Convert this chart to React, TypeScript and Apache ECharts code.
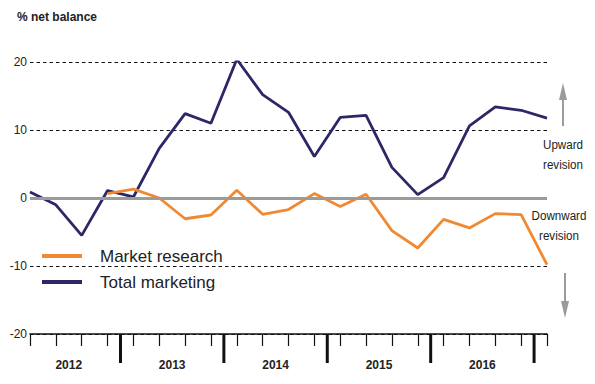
import React, { useEffect, useRef } from 'react';
import * as echarts from 'echarts';

const quarters = [
  '2012 Q1', '2012 Q2', '2012 Q3', '2012 Q4',
  '2013 Q1', '2013 Q2', '2013 Q3', '2013 Q4',
  '2014 Q1', '2014 Q2', '2014 Q3', '2014 Q4',
  '2015 Q1', '2015 Q2', '2015 Q3', '2015 Q4',
  '2016 Q1', '2016 Q2', '2016 Q3', '2016 Q4',
  '2017 Q1',
];
const totalMarketing = [0.9, -1.0, -5.5, 1.1, 0.15, 7.3, 12.4, 11.0, 20.4, 15.2, 12.6, 6.1, 11.85, 12.15, 4.5, 0.5, 3.0, 10.6, 13.4, 12.9, 11.75];
const marketResearch: (number | null)[] = [null, null, null, 0.65, 1.3, 0.0, -3.05, -2.5, 1.15, -2.4, -1.7, 0.65, -1.25, 0.55, -4.8, -7.35, -3.15, -4.4, -2.3, -2.45, -9.8];
const yearLabels = ['2012', '2013', '2014', '2015', '2016'];
const yMin = -20;
const yMax = 20;
const yInterval = 10;

const NAVY = '#2c2868';
const ORANGE = '#ef8a32';
const GREY = '#9b9b9b';
const FONT = "'Liberation Sans', Arial, Helvetica, sans-serif";

export default function App() {
  const ref = useRef<HTMLDivElement>(null);
  useEffect(() => {
    if (!ref.current) return;
    const chart = echarts.init(ref.current, undefined, { renderer: 'svg' });

    const yearOf = quarters.map((q) => q.slice(0, 4));
    const boundaries: number[] = [];
    for (let i = 1; i < yearOf.length; i++) {
      if (yearOf[i] !== yearOf[i - 1]) boundaries.push(i - 0.5);
    }
    const centers = yearLabels.map((y) => {
      const idx = yearOf.map((v, i) => (v === y ? i : -1)).filter((i) => i >= 0);
      return idx.reduce((a, b) => a + b, 0) / idx.length;
    });

    const tmData = totalMarketing.map((v, i) => [i, v]);
    const mrData = marketResearch
      .map((v, i) => (v === null ? null : [i, v]))
      .filter((d) => d !== null);

    chart.setOption({
      animation: false,
      backgroundColor: '#ffffff',
      title: {
        text: '% net balance',
        left: 12,
        top: 6,
        textStyle: { fontSize: 12, fontWeight: 'bold', color: '#222', fontFamily: FONT },
      },
      legend: {
        data: [
          { name: 'Market research', icon: 'rect' },
          { name: 'Total marketing', icon: 'rect' },
        ],
        orient: 'vertical',
        left: 42,
        top: 243,
        itemWidth: 40,
        itemHeight: 4,
        itemGap: 0,
        padding: 0,
        textStyle: { fontSize: 17, color: '#222', fontFamily: FONT, lineHeight: 26, height: 26, padding: [0, 0, 0, 13] },
      },
      grid: { left: 30, right: 48, top: 62, bottom: 50, containLabel: false },
      xAxis: {
        type: 'value',
        min: 0,
        max: quarters.length - 1,
        interval: 1,
        axisLine: { onZero: false, lineStyle: { color: '#111', width: 1.5 } },
        axisTick: { show: true, length: 12, lineStyle: { color: '#111', width: 1.2 } },
        axisLabel: { show: false },
        splitLine: { show: false },
      },
      yAxis: {
        type: 'value',
        min: yMin,
        max: yMax,
        interval: yInterval,
        axisLine: { show: false },
        axisTick: { show: false },
        axisLabel: { color: '#222', fontSize: 12, margin: 3, fontFamily: FONT },
        splitLine: { lineStyle: { type: [3.5, 3], color: '#111', width: 1 } },
      },
      graphic: [
        { type: 'line', shape: { x1: 563, y1: 126, x2: 563, y2: 96 }, style: { stroke: GREY, lineWidth: 2 } },
        { type: 'polygon', shape: { points: [[563, 83], [559, 100], [567, 100]] }, style: { fill: GREY } },
        { type: 'line', shape: { x1: 565, y1: 273, x2: 565, y2: 305 }, style: { stroke: GREY, lineWidth: 2 } },
        { type: 'polygon', shape: { points: [[565, 318], [561, 301], [569, 301]] }, style: { fill: GREY } },
        {
          type: 'text',
          x: 563,
          y: 135,
          scaleX: 0.86,
          style: { text: 'Upward\nrevision', align: 'center', verticalAlign: 'top', lineHeight: 20, fontSize: 13.5, fontFamily: FONT, fill: '#222' },
        },
        {
          type: 'text',
          x: 559,
          y: 206,
          scaleX: 0.86,
          style: { text: 'Downward\nrevision', align: 'center', verticalAlign: 'top', lineHeight: 20, fontSize: 13.5, fontFamily: FONT, fill: '#222' },
        },
      ],
      series: [
        {
          name: 'zero',
          type: 'line',
          data: [],
          z: 1,
          silent: true,
          markLine: {
            symbol: ['none', 'none'],
            silent: true,
            label: { show: false },
            lineStyle: { color: GREY, width: 3, type: 'solid' },
            data: [{ yAxis: 0 }],
          },
        },
        {
          name: 'Total marketing',
          type: 'line',
          data: tmData,
          symbol: 'none',
          z: 3,
          lineStyle: { color: NAVY, width: 2.8 },
          itemStyle: { color: NAVY },
        },
        {
          name: 'Market research',
          type: 'line',
          data: mrData,
          symbol: 'none',
          z: 4,
          lineStyle: { color: ORANGE, width: 2.8 },
          itemStyle: { color: ORANGE },
        },
        {
          name: 'yearTicks',
          type: 'custom',
          clip: false,
          silent: true,
          z: 5,
          data: boundaries.map((b) => [b, yMin]),
          encode: { x: 0, y: 1 },
          renderItem: (params: any, api: any) => {
            const p = api.coord([api.value(0), api.value(1)]);
            return {
              type: 'line',
              shape: { x1: p[0], y1: p[1], x2: p[0], y2: p[1] + 29 },
              style: { stroke: '#111', lineWidth: 3 },
            };
          },
        },
        {
          name: 'yearLabels',
          type: 'custom',
          clip: false,
          silent: true,
          z: 5,
          data: centers.map((c, i) => [c, yMin, i]),
          encode: { x: 0, y: 1 },
          renderItem: (params: any, api: any) => {
            const p = api.coord([api.value(0), api.value(1)]);
            return {
              type: 'text',
              x: p[0],
              y: p[1] + 31,
              style: {
                text: yearLabels[api.value(2)],
                align: 'center',
                verticalAlign: 'middle',
                fontSize: 12,
                fontWeight: 'bold',
                fontFamily: FONT,
                fill: '#222',
              },
            };
          },
        },
      ],
    });
    return () => chart.dispose();
  }, []);
  return <div ref={ref} style={{ position: 'absolute', left: 0, top: 0, width: 595, height: 384 }} />;
}
